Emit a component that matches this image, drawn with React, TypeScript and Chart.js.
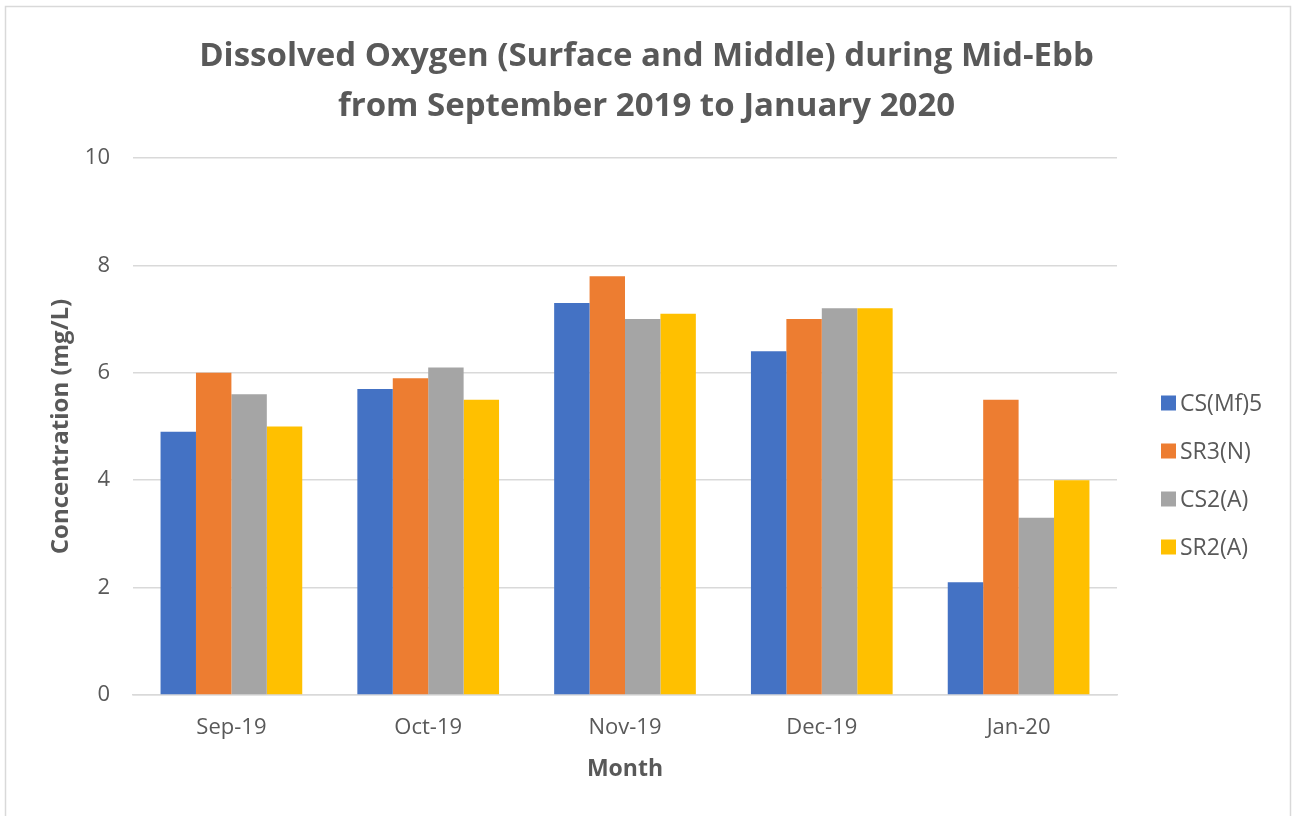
import React, { useEffect, useRef } from "react";
import { Chart, registerables } from "chart.js";

Chart.register(...registerables);

const categories = ["Sep-19", "Oct-19", "Nov-19", "Dec-19", "Jan-20"];
const csMf5 = [4.9, 5.7, 7.3, 6.4, 2.1];
const sr3N = [6.0, 5.9, 7.8, 7.0, 5.5];
const cs2A = [5.6, 6.1, 7.0, 7.2, 3.3];
const sr2A = [5.0, 5.5, 7.1, 7.2, 4.0];
const seriesLabels = ["CS(Mf)5", "SR3(N)", "CS2(A)", "SR2(A)"];
const seriesColors = ["#4472C4", "#ED7D31", "#A5A5A5", "#FFC000"];
const titleLines = [
  "Dissolved Oxygen (Surface and Middle) during Mid-Ebb",
  "from September 2019 to January 2020",
];
const yAxisTitle = "Concentration (mg/L)";
const xAxisTitle = "Month";
const yMin = 0;
const yMax = 10;
const yStep = 2;

const FONT = "'Open Sans'";
const TEXT = "#595959";
const GRID = "#D9D9D9";

const framePlugin = {
  id: "frame",
  beforeDraw(chart: any) {
    const ctx = chart.ctx;
    ctx.save();
    ctx.fillStyle = "#FFFFFF";
    ctx.fillRect(0, 0, chart.width, chart.height);
    ctx.strokeStyle = "#D9D9D9";
    ctx.lineWidth = 1.5;
    ctx.strokeRect(5.5, 6.5, 1285, 900);
    ctx.restore();
  },
};

const titlePlugin = {
  id: "customTitle",
  afterDraw(chart: any) {
    const ctx = chart.ctx;
    ctx.save();
    ctx.font = `bold 33px ${FONT}`;
    ctx.fillStyle = TEXT;
    ctx.textAlign = "center";
    ctx.textBaseline = "alphabetic";
    titleLines.forEach((line, i) => {
      ctx.fillText(line, chart.width / 2, 66 + i * 50);
    });
    ctx.restore();
  },
};

const legendPlugin = {
  id: "customLegend",
  afterDraw(chart: any) {
    const ctx = chart.ctx;
    ctx.save();
    ctx.font = `23px ${FONT}`;
    ctx.textBaseline = "middle";
    ctx.textAlign = "left";
    chart.data.datasets.forEach((ds: any, i: number) => {
      const cy = 403 + i * 48;
      ctx.fillStyle = ds.backgroundColor;
      ctx.fillRect(1161, cy - 7.5, 15, 15);
      ctx.fillStyle = TEXT;
      ctx.fillText(ds.label, 1180, cy + 1);
    });
    ctx.restore();
  },
};

export default function App() {
  const ref = useRef<HTMLCanvasElement | null>(null);

  useEffect(() => {
    if (!ref.current) return;
    const data = [csMf5, sr3N, cs2A, sr2A];
    const chart = new Chart(ref.current, {
      type: "bar",
      data: {
        labels: categories,
        datasets: data.map((d, i) => ({
          label: seriesLabels[i],
          data: d,
          backgroundColor: seriesColors[i],
          borderWidth: 0,
          categoryPercentage: 0.72,
          barPercentage: 1.0,
        })),
      },
      options: {
        responsive: false,
        animation: false,
        devicePixelRatio: 1,
        layout: { padding: { left: 0, right: 176, top: 158, bottom: 0 } },
        plugins: {
          legend: { display: false },
          tooltip: { enabled: false },
          title: { display: false },
        },
        scales: {
          x: {
            grid: { display: false, drawTicks: false },
            border: { display: true, color: GRID, width: 1.5 },
            ticks: {
              color: TEXT,
              font: { family: FONT, size: 22 },
              padding: 20,
            },
            title: {
              display: true,
              text: xAxisTitle,
              color: TEXT,
              font: { family: FONT, size: 23, weight: "bold", lineHeight: 1.2 },
              padding: { top: 0, bottom: 33 },
            },
            afterFit(scale: any) {
              scale.height = 121;
            },
          },
          y: {
            min: yMin,
            max: yMax,
            grid: { color: GRID, lineWidth: 1.5, drawTicks: false },
            border: { display: false },
            ticks: {
              stepSize: yStep,
              color: TEXT,
              font: { family: FONT, size: 22 },
              padding: 23,
            },
            title: {
              display: true,
              text: yAxisTitle,
              color: TEXT,
              font: { family: FONT, size: 24, weight: "bold", lineHeight: 1.2 },
              padding: { top: 47, bottom: 0 },
            },
            afterFit(scale: any) {
              scale.width = 133;
            },
          },
        },
      },
      plugins: [framePlugin, titlePlugin, legendPlugin],
    } as any);
    return () => chart.destroy();
  }, []);

  return (
    <div style={{ position: "fixed", left: 0, top: 0, width: 1293, height: 816 }}>
      <canvas ref={ref} width={1293} height={816} />
    </div>
  );
}
